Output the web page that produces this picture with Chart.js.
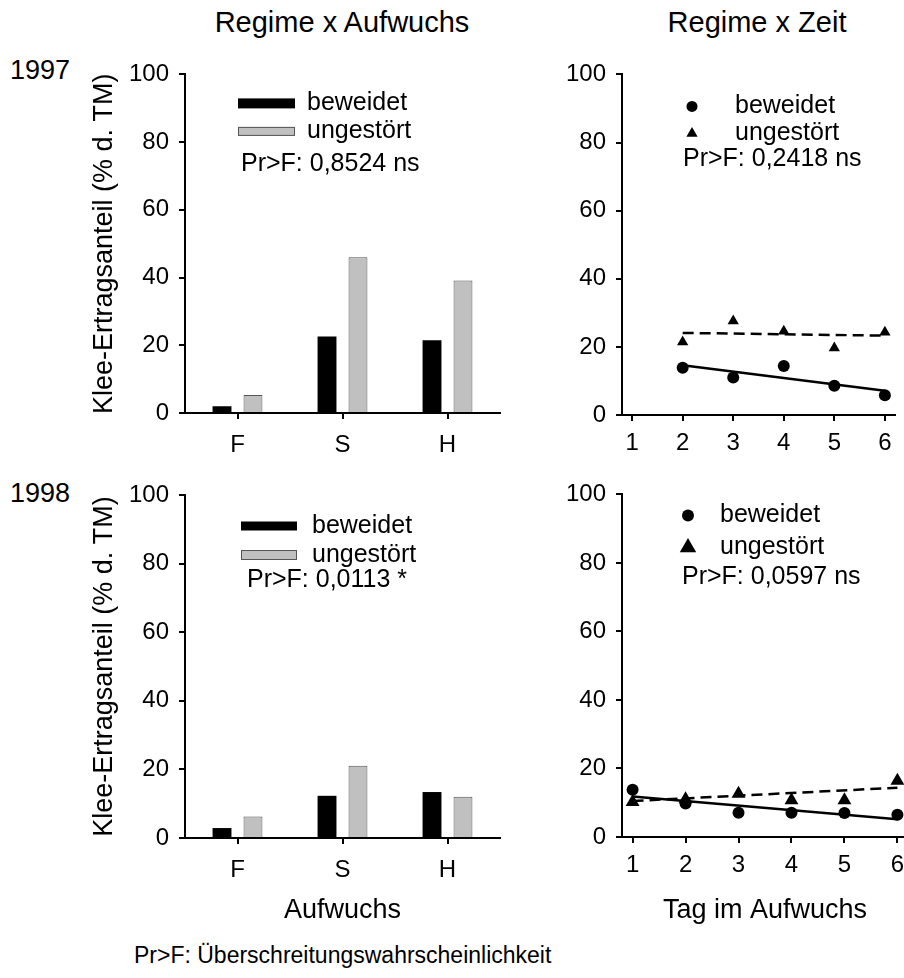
<!DOCTYPE html>
<html>
<head>
<meta charset="utf-8">
<script src="https://cdn.jsdelivr.net/npm/chart.js@4.4.1/dist/chart.umd.min.js"></script>
<style>
  html, body { margin: 0; padding: 0; background: #fff; overflow: hidden; }
  #page { position: relative; width: 904px; height: 978px; overflow: hidden;
          font-family: "Liberation Sans", Arial, sans-serif; color: #000; }
  #page canvas { position: absolute; }
  .lbl { position: absolute; white-space: nowrap; line-height: 1; }
</style>
</head>
<body>
<div id="page">
  <canvas id="bar97" width="422" height="425" style="left:88px;top:50px"></canvas>
  <canvas id="bar98" width="422" height="457" style="left:88px;top:470px"></canvas>
  <canvas id="zeit97" width="364" height="425" style="left:540px;top:50px"></canvas>
  <canvas id="zeit98" width="390" height="457" style="left:540px;top:470px"></canvas>
</div>
<script>
const FONT = '"Liberation Sans", Arial, sans-serif';

// Regime x Aufwuchs (bars)
const aufwuchs = ['F', 'S', 'H'];
const beweidet97 = [2.0, 22.6, 21.5];
const ungestoert97 = [5.3, 46.0, 39.1];
const beweidet98 = [2.9, 12.3, 13.4];
const ungestoert98 = [6.3, 21.1, 12.0];

// Regime x Zeit (points)
const tage97 = [2, 3, 4, 5, 6];
const punkteBew97 = [13.9, 11.0, 14.4, 8.6, 5.8];
const punkteUng97 = [21.4, 27.6, 24.6, 19.7, 24.3];
const tage98 = [1, 2, 3, 4, 5, 6];
const punkteBew98 = [13.8, 9.8, 7.1, 7.1, 7.0, 6.5];
const punkteUng98 = [10.2, 11.0, 12.6, 10.7, 10.7, 16.4];

// fitted lines, end points
const trendTage97 = [2, 6];
const trendBew97 = [14.6, 7.1];
const trendUng97 = [24.1, 23.3];
const trendTage98 = [1, 6];
const trendBew98 = [11.8, 5.2];
const trendUng98 = [10.5, 14.4];

const yTicks = [0, 20, 40, 60, 80, 100];
const tagTicks = [1, 2, 3, 4, 5, 6];
const regime = ['beweidet', 'ungestört'];
const pWerte = ['Pr>F: 0,8524 ns', 'Pr>F: 0,0113 *', 'Pr>F: 0,2418 ns', 'Pr>F: 0,0597 ns'];
const yTitel = 'Klee-Ertragsanteil (% d. TM)';

const GRAY = '#c0c0c0';

// free text around the panels
function addText(text, size, x, baseline, center) {
    const d = document.createElement('div');
    d.className = 'lbl';
    d.textContent = text;
    d.style.fontSize = size + 'px';
    d.style.left = x + 'px';
    d.style.top = (baseline - size * 0.8465) + 'px';
    if (center) d.style.transform = 'translateX(-50%)';
    document.getElementById('page').appendChild(d);
}
addText('Regime x Aufwuchs', 29, 342, 33, true);
addText('Regime x Zeit', 29, 757, 33, true);
addText('1997', 27, 10, 80, false);
addText('1998', 27, 10, 503, false);
addText('Pr>F: Überschreitungswahrscheinlichkeit', 23, 134, 963, false);

function marker(ctx, style, x, y, r) {
    ctx.beginPath();
    if (style === 'circle') {
        ctx.arc(x, y, r, 0, Math.PI * 2);
    } else {
        ctx.moveTo(x, y - r);
        ctx.lineTo(x + 0.866 * r, y + 0.5 * r);
        ctx.lineTo(x - 0.866 * r, y + 0.5 * r);
        ctx.closePath();
    }
    ctx.fill();
}

// legend + Pr>F note inside the plot area
const insetLegend = {
    id: 'insetLegend',
    afterDraw(chart, args, opts) {
        const { ctx, chartArea } = chart;
        const x0 = chartArea.left, y0 = chartArea.top;
        ctx.save();
        ctx.font = '25px ' + FONT;
        ctx.textBaseline = 'middle';
        opts.rows.forEach((row, i) => {
            const y = y0 + row.dy;
            if (row.box) {
                ctx.fillStyle = row.fill;
                ctx.fillRect(x0 + opts.markX, y - row.box / 2, opts.boxW, row.box);
                if (row.stroke) {
                    ctx.strokeStyle = row.stroke;
                    ctx.lineWidth = 1;
                    ctx.strokeRect(x0 + opts.markX + 0.5, y - row.box / 2 + 0.5, opts.boxW - 1, row.box - 1);
                }
            } else {
                ctx.fillStyle = '#000';
                marker(ctx, row.style, x0 + opts.markX, y, row.r);
            }
            ctx.fillStyle = '#000';
            ctx.fillText(regime[i], x0 + opts.textX, y);
        });
        ctx.fillText(opts.note, x0 + opts.noteX, y0 + opts.noteY);
        ctx.restore();
    }
};

function yScale(width, withTitle) {
    return {
        min: 0, max: 100,
        afterBuildTicks: s => { s.ticks = yTicks.map(v => ({ value: v })); },
        afterFit: s => { s.width = width; },
        ticks: { color: '#000', font: { size: 24, family: FONT }, padding: 10 },
        grid: { drawOnChartArea: false, drawTicks: true, tickLength: 6, color: '#000', lineWidth: 2 },
        border: { display: true, color: '#000', width: 2 },
        title: { display: withTitle, text: yTitel, color: '#000', font: { size: 27, family: FONT }, padding: 0 }
    };
}

function xTitle(text) {
    return { display: !!text, text: text || '', color: '#000', font: { size: 27, family: FONT }, padding: 0 };
}

function barChart(id, bew, ung, height, padTop, legend, titel) {
    return new Chart(document.getElementById(id), {
        type: 'bar',
        data: {
            labels: aufwuchs,
            datasets: [
                { label: regime[0], data: bew, backgroundColor: '#000', borderWidth: 0 },
                { label: regime[1], data: ung, backgroundColor: GRAY, borderColor: '#555', borderWidth: 1 }
            ]
        },
        options: {
            responsive: false,
            animation: false,
            devicePixelRatio: 1,
            layout: { padding: { top: padTop, right: 10, left: 0, bottom: 0 } },
            categoryPercentage: 0.59,
            barPercentage: 0.61,
            scales: {
                x: {
                    afterFit: s => { s.height = height; },
                    ticks: { color: '#000', font: { size: 24, family: FONT }, padding: 12 },
                    grid: { offset: false, drawOnChartArea: false, drawTicks: true, tickLength: 6, color: '#000', lineWidth: 2 },
                    border: { display: true, color: '#000', width: 2 },
                    title: xTitle(titel)
                },
                y: yScale(97, true)
            },
            plugins: { legend: { display: false }, tooltip: { enabled: false }, insetLegend: legend }
        },
        plugins: [insetLegend]
    });
}

function pts(xs, ys) {
    return xs.map((x, i) => ({ x, y: ys[i] }));
}

function zeitChart(id, tage, bew, ung, tTage, tBew, tUng, sizes, height, pad, legend, titel) {
    return new Chart(document.getElementById(id), {
        type: 'scatter',
        data: {
            datasets: [
                { label: regime[0], data: pts(tage, bew), pointStyle: 'circle', pointRadius: sizes[0],
                  backgroundColor: '#000', borderWidth: 0 },
                { label: regime[1], data: pts(tage, ung), pointStyle: 'triangle', pointRadius: sizes[1],
                  backgroundColor: '#000', borderWidth: 0 },
                { data: pts(tTage, tBew), showLine: true, pointRadius: 0, borderColor: '#000', borderWidth: 2.5 },
                { data: pts(tTage, tUng), showLine: true, pointRadius: 0, borderColor: '#000', borderWidth: 2.5,
                  borderDash: [11, 6] }
            ]
        },
        options: {
            responsive: false,
            animation: false,
            devicePixelRatio: 1,
            layout: { padding: pad },
            scales: {
                x: {
                    type: 'linear', min: 0.8, max: 6.2,
                    afterBuildTicks: s => { s.ticks = tagTicks.map(v => ({ value: v })); },
                    afterFit: s => { s.height = height; },
                    ticks: { color: '#000', font: { size: 24, family: FONT }, padding: 8 },
                    grid: { drawOnChartArea: false, drawTicks: true, tickLength: 6, color: '#000', lineWidth: 2 },
                    border: { display: true, color: '#000', width: 2 },
                    title: xTitle(titel)
                },
                y: yScale(82, false)
            },
            plugins: { legend: { display: false }, tooltip: { enabled: false }, insetLegend: legend }
        },
        plugins: [insetLegend]
    });
}

barChart('bar97', beweidet97, ungestoert97, 62, 22, {
    markX: 53, boxW: 57, textX: 122, noteX: 56, noteY: 90, note: pWerte[0],
    rows: [{ dy: 29, box: 10, fill: '#000' }, { dy: 57, box: 9, fill: GRAY, stroke: '#555' }]
}, null);

barChart('bar98', beweidet98, ungestoert98, 89, 25, {
    markX: 56, boxW: 56, textX: 127, noteX: 62, noteY: 85, note: pWerte[1],
    rows: [{ dy: 31, box: 9, fill: '#000' }, { dy: 60, box: 10, fill: GRAY, stroke: '#555' }]
}, 'Aufwuchs');

zeitChart('zeit97', tage97, punkteBew97, punkteUng97, trendTage97, trendBew97, trendUng97,
    [6, 6.5], 60, { top: 23, right: 9, left: 0, bottom: 0 }, {
    markX: 70, textX: 113, noteX: 61, noteY: 85, note: pWerte[2],
    rows: [{ dy: 32, style: 'circle', r: 5.5 }, { dy: 59, style: 'triangle', r: 6.5 }]
}, null);

zeitChart('zeit98', tage98, punkteBew98, punkteUng98, trendTage98, trendBew98, trendUng98,
    [6, 8], 90, { top: 24, right: 22, left: 0, bottom: 0 }, {
    markX: 66, textX: 98, noteX: 60, noteY: 83, note: pWerte[3],
    rows: [{ dy: 21, style: 'circle', r: 6 }, { dy: 53, style: 'triangle', r: 9.5 }]
}, 'Tag im Aufwuchs');
</script>
</body>
</html>
